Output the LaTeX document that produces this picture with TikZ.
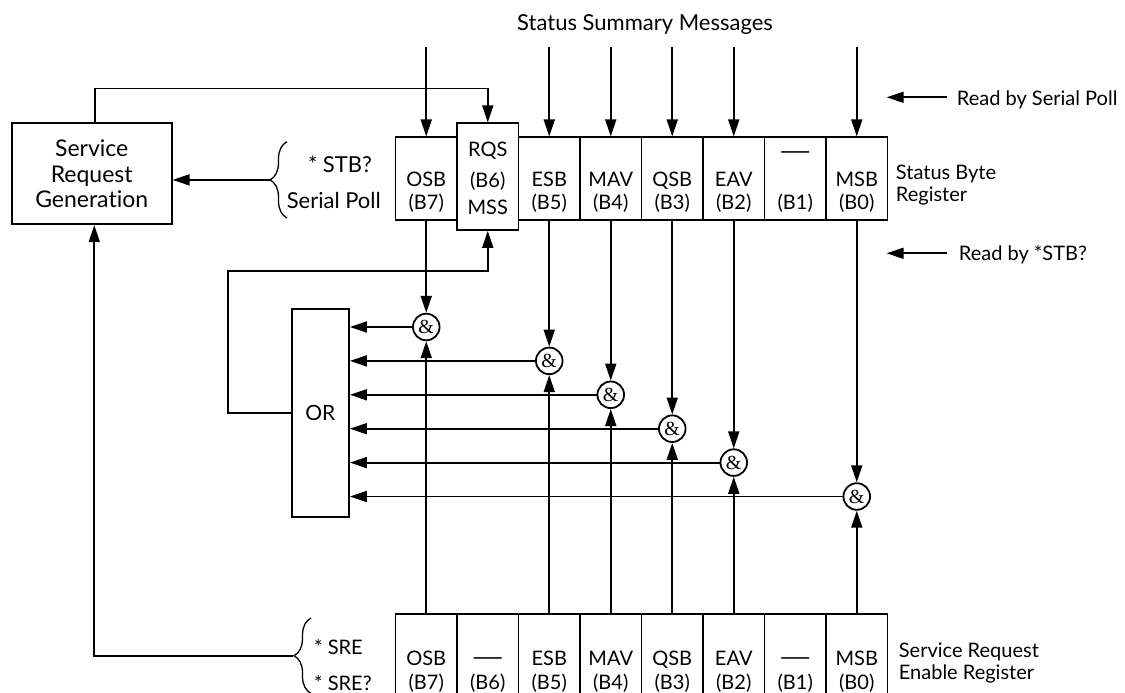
\documentclass[tikz,border=0pt]{standalone}
\usepackage{fontspec}
\setsansfont{Lato}[Ligatures={NoCommon}]
\newfontfamily\ampfont{Liberation Serif}
\usetikzlibrary{arrows.meta,decorations.pathreplacing}
\newcommand{\bardash}{\scalebox{2.1}[1.2]{—}}
\begin{document}
\begin{tikzpicture}[x=1pt,y=-1pt,line width=1.8pt,
  txt/.style={font=\sffamily\fontsize{20}{24}\selectfont, inner sep=0pt},
  big/.style={font=\sffamily\fontsize{22}{25.5}\selectfont, inner sep=0pt},
  reg/.style={draw, minimum width=61.5pt, minimum height=82.7pt, inner sep=0pt},
  rqs/.style={draw, minimum width=61.5pt, minimum height=106.7pt, inner sep=0pt},
  ereg/.style={draw, minimum width=61.5pt, minimum height=111.3pt, inner sep=0pt},
  gate/.style={draw, circle, minimum size=26.6pt, inner sep=0pt, font=\ampfont\fontsize{20}{20}\selectfont},
  arr/.style={-{Triangle[length=17pt,width=11pt]}},
  brc/.style={decorate, decoration={brace, amplitude=17pt}, line width=1.3pt}]
\useasboundingbox (0,0) rectangle (1125,693);

% title
\node[big,anchor=base] (title) at (645,30.7) {Status Summary Messages};

% Service Request Generation
\node[draw, minimum width=160pt, minimum height=101pt, align=center, inner sep=0pt,
      font=\sffamily\fontsize{23}{25.5}\selectfont] (srg) at (91.7,173.8) {Service\\Request\\Generation};

% Status Byte Register
\foreach \i/\a/\b in {0/OSB/(B7),2/ESB/(B5),3/MAV/(B4),4/QSB/(B3),5/EAV/(B2),7/MSB/(B0)} {
  \node[reg] (s\i) at ({426.25+61.5*\i},178.65) {};
  \node[txt,anchor=base] at ({426.25+61.5*\i},186.5) {\a};
  \node[txt,anchor=base] at ({426.25+61.5*\i},209.3) {\b};
}
\node[reg] (s6) at (795.25,178.65) {};
\node[txt,anchor=base] at (795.25,159) {\bardash};
\node[txt,anchor=base] at (795.25,209.3) {(B1)};
\node[rqs] (s1) at (487.75,176.65) {};
\node[txt,anchor=base] at (487.75,156) {RQS};
\node[txt,anchor=base] at (487.75,187.3) {(B6)};
\node[txt,anchor=base] at (487.75,214) {MSS};

% Service Request Enable Register
\foreach \i/\a/\b in {0/OSB/(B7),1/\bardash/(B6),2/ESB/(B5),3/MAV/(B4),4/QSB/(B3),5/EAV/(B2),6/\bardash/(B1),7/MSB/(B0)} {
  \node[ereg] (e\i) at ({426.25+61.5*\i},669.35) {};
  \node[txt,anchor=base] at ({426.25+61.5*\i},665) {\a};
  \node[txt,anchor=base] at ({426.25+61.5*\i},689.3) {\b};
}

% right labels
\node[txt,anchor=base west] (rsp) at (956,105) {Read by Serial Poll};
\node[txt,anchor=base west] (rst) at (958,260.7) {Read by *STB?};
\node[txt,anchor=base west] (sbr1) at (895,179.3) {Status Byte};
\node[txt,anchor=base west] (sbr2) at (895,201.7) {Register};
\node[txt,anchor=base west] (sre1) at (898,657.3) {Service Request};
\node[txt,anchor=base west] (sre2) at (898,679.3) {Enable Register};
\coordinate (rsps) at (946.7,97.3);
\coordinate (rspe) at (886.7,97.3);
\coordinate (rsts) at (946.7,253.3);
\coordinate (rste) at (886.7,253.3);
\draw[arr] (rsps) -- (rspe);
\draw[arr] (rsts) -- (rste);

% left labels and braces
\node[big,anchor=base] (stb) at (340,172.7) {* STB?};
\node[big,anchor=base] (sp) at (333.8,208.3) {Serial Poll};
\node[txt,anchor=base west] (sre) at (313.3,654) {* SRE};
\node[txt,anchor=base west] (sreq) at (313.3,690) {* SRE?};
\draw[brc] (287,218) -- (287,141.7);
\coordinate (b1) at (270,179.9);
\draw[arr] (b1) -- (b1 -| srg.east);
\draw[brc] (311,693.4) -- (311,618);
\coordinate (b2) at (293,655.7);
\draw[arr] (b2) -| ([xshift=2.6pt]srg.south);

% OR gate
\node[draw, minimum width=57.3pt, minimum height=207.4pt, inner sep=0pt,
      font=\sffamily\fontsize{21}{21}\selectfont] (or) at (320.35,413) {OR};

% AND gates
\node[gate] (g0) at (426.25,327) {\&};
\node[gate] (g2) at (549.25,360.9) {\&};
\node[gate] (g3) at (610.75,394.8) {\&};
\node[gate] (g4) at (672.25,428.7) {\&};
\node[gate] (g5) at (733.75,462.6) {\&};
\node[gate] (g7) at (856.75,496.5) {\&};

% connections
\foreach \i in {0,2,3,4,5,7} {
  \coordinate (t\i) at ({426.25+61.5*\i},47);
  \draw[arr] (t\i) -- (s\i);
  \draw[arr] (s\i) -- (g\i);
  \draw[arr] (e\i) -- (g\i);
  \draw[arr] (g\i) -- (g\i -| or.east);
}
\draw[arr] ([xshift=3.3pt]srg.north) -- ++(0,-33.8) -| (s1);
\coordinate (fb) at (228.3,270.7);
\draw[arr] (or.west) -- (or.west -| fb) -- (fb) -| (s1);
\end{tikzpicture}
\end{document}
